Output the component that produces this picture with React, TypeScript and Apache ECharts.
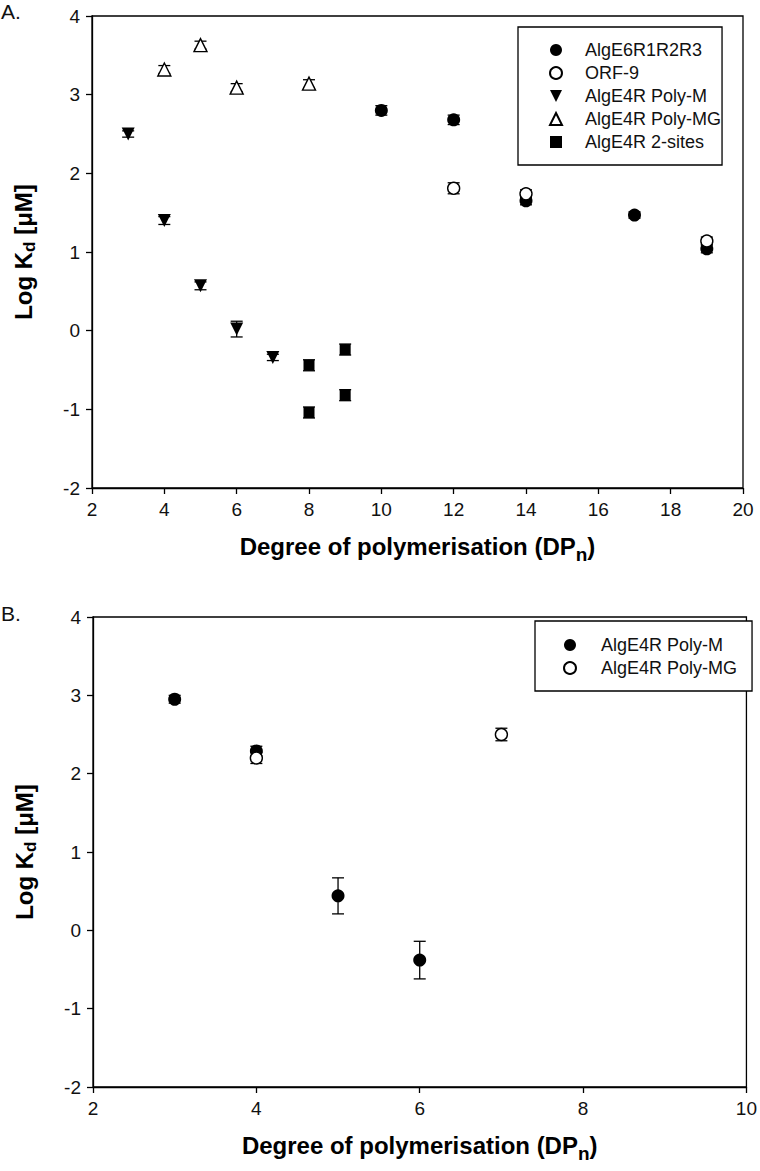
import React, { useEffect, useRef } from "react";
import * as echarts from "echarts";

const FONT = 'Arial, "Liberation Sans", Helvetica, sans-serif';

// ---------- Panel A data: [DPn, Log Kd, error] ----------
const xTicksA = [2, 4, 6, 8, 10, 12, 14, 16, 18, 20];
const yTicks = [-2, -1, 0, 1, 2, 3, 4];
const namesA = ["AlgE6R1R2R3", "ORF-9", "AlgE4R Poly-M", "AlgE4R Poly-MG", "AlgE4R 2-sites"];
const algE6A = [[10, 2.8, 0.06], [12, 2.68, 0.06], [14, 1.65, 0.05], [17, 1.47, 0.04], [19, 1.04, 0.05]];
const orf9A = [[12, 1.81, 0.07], [14, 1.74, 0.05], [19, 1.14, 0.05]];
const polyMA = [[3, 2.5, 0.04], [4, 1.4, 0.05], [5, 0.57, 0.05], [6, 0.02, 0.1], [7, -0.34, 0.04]];
const polyMGA = [[4, 3.32, 0.05], [5, 3.63, 0.05], [6, 3.09, 0.05], [8, 3.14, 0.05]];
const twoSitesA = [[8, -0.44, 0.07], [8, -1.04, 0.07], [9, -0.24, 0.07], [9, -0.82, 0.07]];

// ---------- Panel B data ----------
const xTicksB = [2, 4, 6, 8, 10];
const namesB = ["AlgE4R Poly-M", "AlgE4R Poly-MG"];
const polyMB = [[3, 2.95, 0.05], [4, 2.29, 0.06], [5, 0.44, 0.23], [6, -0.38, 0.24]];
const polyMGB = [[4, 2.2, 0.07], [7, 2.5, 0.08]];

const BLACK = "#000";
const ICON_DOWN = "path://M0,0L12,0L6,12Z";
const ICON_UP = "path://M6,0L12,12L0,12Z";
const ICON_SQUARE = "path://M1,1L11,1L11,11L1,11Z";

function errSeries(name: string, data: number[][]) {
  return {
    type: "custom",
    name: name + " error",
    silent: true,
    z: 1,
    data,
    renderItem: (_p: any, api: any) => {
      const x = api.value(0);
      const y = api.value(1);
      const e = api.value(2);
      const top = api.coord([x, y + e]);
      const bot = api.coord([x, y - e]);
      const hw = 6;
      const st = { stroke: BLACK, lineWidth: 1.3 };
      return {
        type: "group",
        children: [
          { type: "line", shape: { x1: top[0], y1: top[1], x2: bot[0], y2: bot[1] }, style: st },
          { type: "line", shape: { x1: top[0] - hw, y1: top[1], x2: top[0] + hw, y2: top[1] }, style: st },
          { type: "line", shape: { x1: bot[0] - hw, y1: bot[1], x2: bot[0] + hw, y2: bot[1] }, style: st },
        ],
      };
    },
  };
}

function scatter(name: string, data: number[][], symbol: string, size: number, filled: boolean, rotate = 0) {
  return {
    type: "scatter",
    name,
    z: 3,
    symbol,
    symbolSize: size,
    symbolRotate: rotate,
    data: data.map((d) => [d[0], d[1]]),
    itemStyle: filled
      ? { color: BLACK, borderColor: BLACK, borderWidth: 0, opacity: 1 }
      : { color: "#fff", borderColor: BLACK, borderWidth: 1.4, opacity: 1 },
  };
}

const subRich = (size: number) => ({
  fontSize: size,
  fontWeight: "bold",
  fontFamily: FONT,
  color: BLACK,
  lineHeight: size,
  verticalAlign: "bottom",
});

function axes(xTicks: number[], top: number, height: number, left: number, width: number) {
  const xMin = xTicks[0];
  const xMax = xTicks[xTicks.length - 1];
  const lineStyle = { color: BLACK, width: 1.3 };
  return {
    grid: { left, top, width, height, show: true, borderColor: BLACK, borderWidth: 1.3, backgroundColor: "transparent" },
    xAxis: {
      type: "value",
      min: xMin,
      max: xMax,
      interval: xTicks[1] - xTicks[0],
      axisLine: { show: true, onZero: false, lineStyle },
      axisTick: { show: true, inside: false, length: 6, lineStyle },
      splitLine: { show: false },
      axisLabel: { fontSize: 19, color: "#111", fontFamily: FONT, margin: 12 },
      name: "Degree of polymerisation (DP{sub|n})",
      nameLocation: "middle",
      nameGap: 40,
      nameTextStyle: {
        fontSize: 24,
        fontWeight: "bold",
        fontFamily: FONT,
        color: BLACK,
        lineHeight: 36,
        rich: { sub: subRich(19) },
      },
    },
    yAxis: {
      type: "value",
      min: yTicks[0],
      max: yTicks[yTicks.length - 1],
      interval: 1,
      axisLine: { show: true, onZero: false, lineStyle },
      axisTick: { show: true, inside: false, length: 6, lineStyle },
      splitLine: { show: false },
      axisLabel: { fontSize: 19, color: "#111", fontFamily: FONT, margin: 12 },
      name: "Log K{sub|d} [μM]",
      nameLocation: "middle",
      nameRotate: 90,
      nameGap: 54,
      nameTextStyle: {
        fontSize: 24,
        fontWeight: "bold",
        fontFamily: FONT,
        color: BLACK,
        lineHeight: 30,
        rich: { sub: subRich(17) },
      },
    },
  };
}

function legend(items: any[], left: number, top: number, itemWidth: number, padding: number[]) {
  return {
    show: true,
    data: items,
    orient: "vertical",
    left,
    top,
    itemWidth,
    itemHeight: 12,
    itemGap: 5,
    padding,
    selectedMode: false,
    symbolKeepAspect: true,
    backgroundColor: "#fff",
    borderColor: BLACK,
    borderWidth: 1.3,
    textStyle: { fontSize: 18, color: "#111", fontFamily: FONT, lineHeight: 18 },
  };
}

function panelLabel(text: string, y: number) {
  return {
    type: "text",
    left: 1,
    top: y,
    style: { text, fontSize: 21, fontFamily: FONT, fill: "#111" },
  };
}

const legendItemsA = [
  { name: namesA[0], icon: "circle", symbolRotate: 0 },
  { name: namesA[1], icon: "circle", symbolRotate: 0 },
  { name: namesA[2], icon: ICON_DOWN, symbolRotate: 0 },
  { name: namesA[3], icon: ICON_UP, symbolRotate: 0 },
  { name: namesA[4], icon: ICON_SQUARE, symbolRotate: 0 },
];
const legendItemsB = [
  { name: namesB[0], icon: "circle" },
  { name: namesB[1], icon: "circle" },
];

const optionA = {
  animation: false,
  backgroundColor: "#fff",
  ...axes(xTicksA, 16, 472, 90, 653),
  legend: legend(legendItemsA, 518, 27, 48, [14, 1, 14, 31]),
  graphic: [panelLabel("A.", 1)],
  series: [
    errSeries(namesA[0], algE6A),
    errSeries(namesA[1], orf9A),
    errSeries(namesA[2], polyMA),
    errSeries(namesA[3], polyMGA),
    errSeries(namesA[4], twoSitesA),
    scatter(namesA[0], algE6A, "circle", 13, true),
    scatter(namesA[1], orf9A, "circle", 12, false),
    scatter(namesA[2], polyMA, "triangle", 13, true, 180),
    scatter(namesA[3], polyMGA, "triangle", 13, false),
    scatter(namesA[4], twoSitesA, "rect", 11, true),
  ],
};

const optionB = {
  animation: false,
  backgroundColor: "#fff",
  ...axes(xTicksB, 27, 470, 93, 654),
  legend: legend(legendItemsB, 535, 31, 52, [15, 15, 14, 28]),
  graphic: [panelLabel("B.", 13)],
  series: [
    errSeries(namesB[0], polyMB),
    errSeries(namesB[1], polyMGB),
    scatter(namesB[0], polyMB, "circle", 13, true),
    scatter(namesB[1], polyMGB, "circle", 12, false),
  ],
};

function Chart({ option, top, height }: { option: any; top: number; height: number }) {
  const ref = useRef<HTMLDivElement>(null);
  useEffect(() => {
    if (!ref.current) return;
    const chart = echarts.init(ref.current, null, { renderer: "svg" });
    chart.setOption(option);
    return () => chart.dispose();
  }, [option]);
  return <div ref={ref} style={{ position: "absolute", left: 0, top, width: 760, height }} />;
}

export default function App() {
  return (
    <div style={{ position: "absolute", left: 0, top: 0, width: 760, height: 1171, background: "#fff" }}>
      <Chart option={optionA} top={0} height={590} />
      <Chart option={optionB} top={590} height={581} />
    </div>
  );
}
